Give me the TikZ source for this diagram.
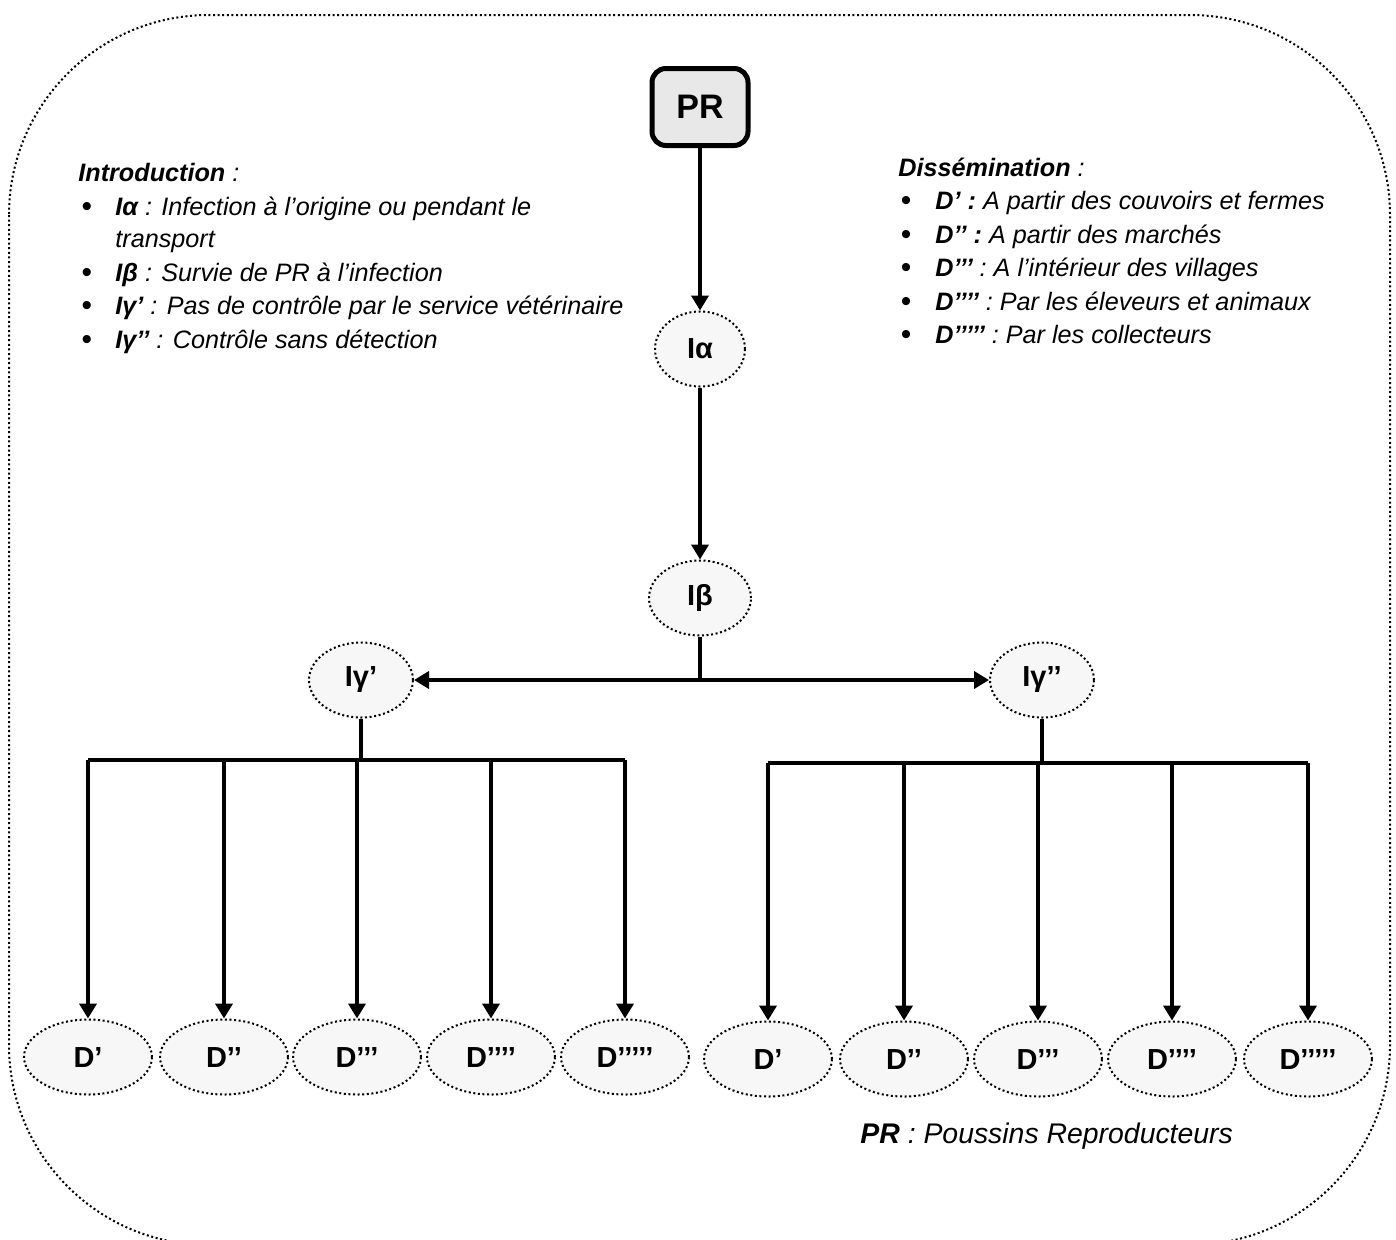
\documentclass[tikz,border=0pt]{standalone}
\usepackage{fontspec}
\setmainfont{Liberation Sans}
\usetikzlibrary{shapes.geometric,arrows.meta}
\begin{document}
\begin{tikzpicture}[x=0.5pt,y=-0.5pt,
  dotline/.style={line width=1pt, dash pattern=on 1pt off 1.3pt},
  ell/.style={ellipse, draw, dotline, fill=gray!6, inner sep=0pt, minimum height=37.5pt,
    font=\fontsize{14.5}{16}\selectfont\bfseries},
  dell/.style={ell, minimum width=64pt},
  conn/.style={line width=2.2pt},
  arr/.style={conn, -{Triangle[width=8.5pt,length=7.5pt]}},
  darr/.style={conn, {Triangle[width=8.5pt,length=7.5pt]}-{Triangle[width=8.5pt,length=7.5pt]}},
  txt/.style={anchor=base west, inner sep=0pt, font=\fontsize{12.6}{14}\selectfont\itshape},
  bul/.style={anchor=base, inner sep=0pt, font=\fontsize{15}{16}\selectfont},
  pr/.style={draw, line width=2.5pt, rounded corners=7pt, fill=gray!18, minimum width=48pt,
    minimum height=38.5pt, inner sep=0pt, font=\fontsize{17}{19}\selectfont\bfseries}
]
\useasboundingbox (0,0) rectangle (1396,1239);
\clip (0,0) rectangle (1396,1239);
\draw[dotline, rounded corners=100pt] (9,15) rectangle (1390,1245);

% main nodes
\node[pr] (PR) at (700,107) {PR};
\node[ell, minimum width=45pt] (ia) at (700,349) {Iα};
\node[ell, minimum width=51pt] (ib) at (700,598) {Iβ};
\node[ell, minimum width=52pt] (igl) at (361,680) {Iγ’};
\node[ell, minimum width=52pt] (igr) at (1042,680) {Iγ’’};

\draw[arr] (PR.south) -- (ia.north);
\draw[arr] (ia.south) -- (ib.north);
\draw[darr] (igl.east) -- (igr.west);
\draw[conn] (ib.south) -- (ib.south |- igl.east);

% bottom left row
\node[dell] (l1) at (88,1057) {D’};
\node[dell] (l2) at (224,1057) {D’’};
\node[dell] (l3) at (357,1057) {D’’’};
\node[dell] (l4) at (491,1057) {D’’’’};
\node[dell] (l5) at (625,1057) {D’’’’’};
% bottom right row
\node[dell] (r1) at (768,1059) {D’};
\node[dell] (r2) at (904,1059) {D’’};
\node[dell] (r3) at (1038,1059) {D’’’};
\node[dell] (r4) at (1172,1059) {D’’’’};
\node[dell] (r5) at (1308,1059) {D’’’’’};

\coordinate (bl) at (361,760);
\coordinate (br) at (1042,763);
\draw[conn] (igl.south) -- (bl);
\draw[conn] (igr.south) -- (br);
\draw[conn] (l1.north |- bl) -- (l5.north |- bl);
\draw[conn] (r1.north |- br) -- (r5.north |- br);
\foreach \n in {l1,l2,l3,l4,l5}{\draw[arr] (\n.north |- bl) -- (\n.north);}
\foreach \n in {r1,r2,r3,r4,r5}{\draw[arr] (\n.north |- br) -- (\n.north);}

% Introduction legend
\node[txt] (it) at (78,181) {\textbf{Introduction} :};
\node[bul] (b1) at (87,216) {•};
\node[txt] (t1) at (115,215) {\textbf{Iα} : Infection à l’origine ou pendant le};
\node[txt] (t1b) at (115,247) {transport};
\node[bul] (b2) at (87,282) {•};
\node[txt] (t2) at (115,281) {\textbf{Iβ} : Survie de PR à l’infection};
\node[bul] (b3) at (87,315) {•};
\node[txt] (t3) at (115,314) {\textbf{Iγ’} : Pas de contrôle par le service vétérinaire};
\node[bul] (b4) at (87,349) {•};
\node[txt] (t4) at (115,348) {\textbf{Iγ’’} : Contrôle sans détection};

% Dissemination legend
\node[txt] (dt) at (898,176) {\textbf{Dissémination} :};
\node[bul] (c1) at (906,210) {•};
\node[txt] (s1) at (935,209) {\textbf{D’ :} A partir des couvoirs et fermes};
\node[bul] (c2) at (906,244) {•};
\node[txt] (s2) at (935,243) {\textbf{D’’ :} A partir des marchés};
\node[bul] (c3) at (906,277) {•};
\node[txt] (s3) at (935,276) {\textbf{D’’’} : A l’intérieur des villages};
\node[bul] (c4) at (906,311) {•};
\node[txt] (s4) at (935,310) {\textbf{D’’’’} : Par les éleveurs et animaux};
\node[bul] (c5) at (906,344) {•};
\node[txt] (s5) at (935,343) {\textbf{D’’’’’} : Par les collecteurs};

% footer
\node[txt, font=\fontsize{14.2}{16}\selectfont\itshape] (ft) at (860,1143) {\textbf{PR} : Poussins Reproducteurs};
\end{tikzpicture}
\end{document}
